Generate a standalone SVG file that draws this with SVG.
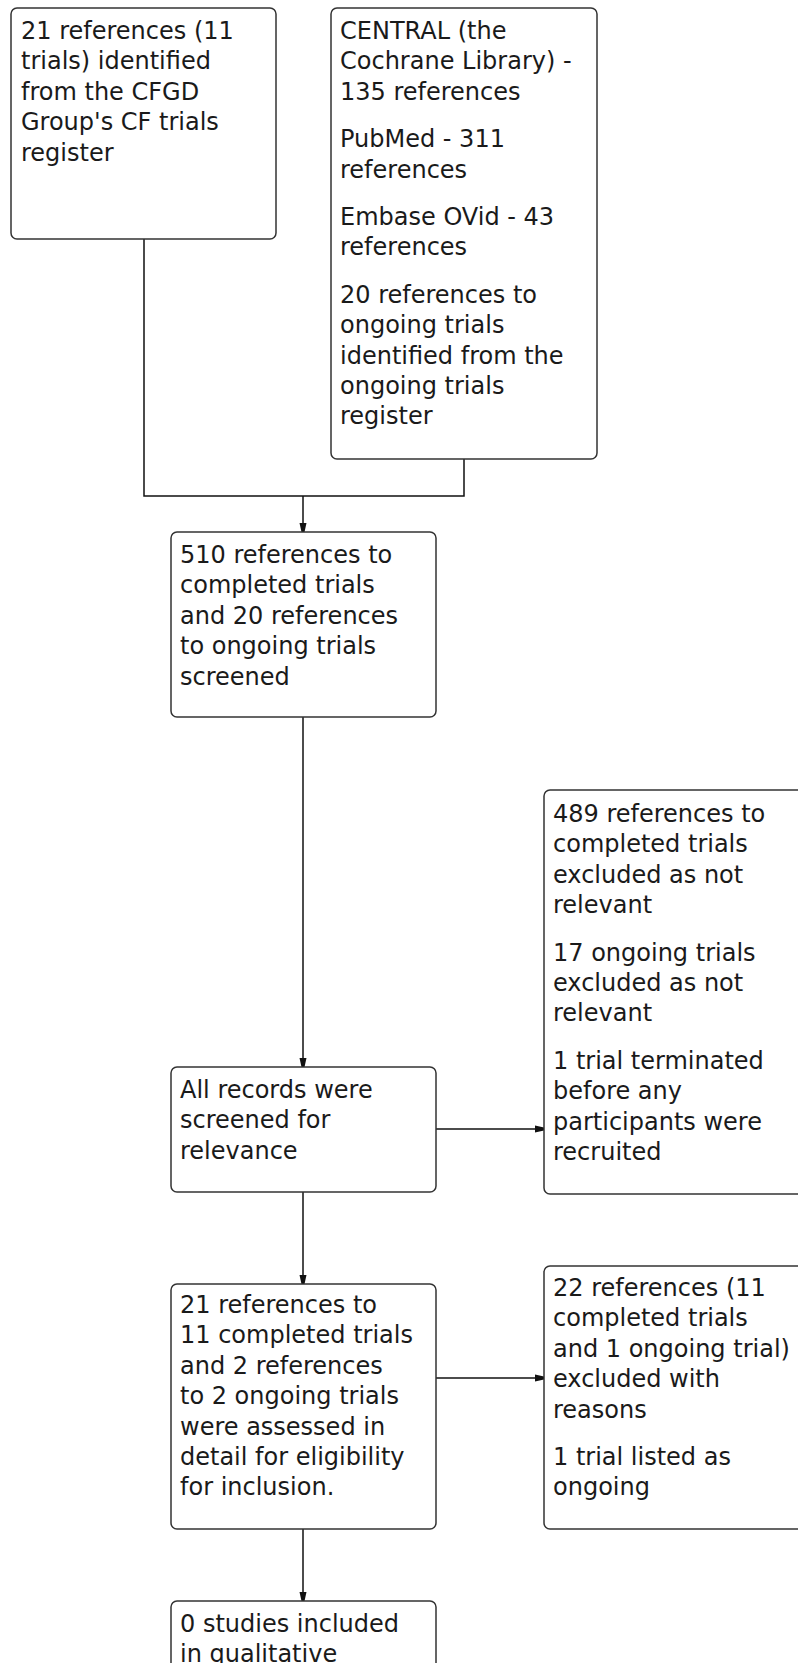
<svg xmlns="http://www.w3.org/2000/svg" width="798" height="1663" viewBox="0 0 798 1663">
<style>
.box{fill:#fff;stroke:#333;stroke-width:1.5}
.t{font-family:"DejaVu Sans",sans-serif;font-size:24px;fill:#1a1a1a}
.c{fill:none;stroke:#111;stroke-width:1.5}
</style>
<defs>
<marker id="ah" markerWidth="10" markerHeight="10" refX="9" refY="4.5" orient="auto" markerUnits="userSpaceOnUse">
<path d="M0,1 L9,3 L9,6 L0,8 Z" fill="#111"/>
</marker>
</defs>
<rect width="798" height="1663" fill="#fff"/>
<g id="connectors">
<polyline class="c" points="144,239 144,496 464,496 464,459"/>
<line class="c" x1="303" y1="496" x2="303" y2="532" marker-end="url(#ah)"/>
<line class="c" x1="303" y1="717" x2="303" y2="1067" marker-end="url(#ah)"/>
<line class="c" x1="436" y1="1129" x2="544" y2="1129" marker-end="url(#ah)"/>
<line class="c" x1="303" y1="1192" x2="303" y2="1284" marker-end="url(#ah)"/>
<line class="c" x1="436" y1="1378" x2="544" y2="1378" marker-end="url(#ah)"/>
<line class="c" x1="303" y1="1529" x2="303" y2="1601" marker-end="url(#ah)"/>
</g>
<g id="n1">
<rect class="box" x="11" y="8" width="265" height="231" rx="6"/>
<text class="t" x="21"><tspan x="21" y="39">21 references (11</tspan><tspan x="21" y="69.4">trials) identified</tspan><tspan x="21" y="99.8">from the CFGD</tspan><tspan x="21" y="130.2">Group's CF trials</tspan><tspan x="21" y="160.6">register</tspan></text>
</g>
<g id="n2">
<rect class="box" x="331" y="8" width="266" height="451" rx="6"/>
<text class="t"><tspan x="340" y="39">CENTRAL (the</tspan><tspan x="340" y="69.4">Cochrane Library) -</tspan><tspan x="340" y="99.8">135 references</tspan><tspan x="340" y="147.2">PubMed - 311</tspan><tspan x="340" y="177.6">references</tspan><tspan x="340" y="225">Embase OVid - 43</tspan><tspan x="340" y="255.4">references</tspan><tspan x="340" y="302.8">20 references to</tspan><tspan x="340" y="333.2">ongoing trials</tspan><tspan x="340" y="363.6">identified from the</tspan><tspan x="340" y="394">ongoing trials</tspan><tspan x="340" y="424.4">register</tspan></text>
</g>
<g id="n3">
<rect class="box" x="171" y="532" width="265" height="185" rx="6"/>
<text class="t"><tspan x="180" y="563">510 references to</tspan><tspan x="180" y="593.4">completed trials</tspan><tspan x="180" y="623.8">and 20 references</tspan><tspan x="180" y="654.2">to ongoing trials</tspan><tspan x="180" y="684.6">screened</tspan></text>
</g>
<g id="n4">
<rect class="box" x="171" y="1067" width="265" height="125" rx="6"/>
<text class="t"><tspan x="180" y="1098">All records were</tspan><tspan x="180" y="1128.4">screened for</tspan><tspan x="180" y="1158.8">relevance</tspan></text>
</g>
<g id="n5">
<rect class="box" x="544" y="790" width="265" height="404" rx="6"/>
<text class="t"><tspan x="553" y="822">489 references to</tspan><tspan x="553" y="852.4">completed trials</tspan><tspan x="553" y="882.8">excluded as not</tspan><tspan x="553" y="913.2">relevant</tspan><tspan x="553" y="960.6">17 ongoing trials</tspan><tspan x="553" y="991">excluded as not</tspan><tspan x="553" y="1021.4">relevant</tspan><tspan x="553" y="1068.8">1 trial terminated</tspan><tspan x="553" y="1099.2">before any</tspan><tspan x="553" y="1129.6">participants were</tspan><tspan x="553" y="1160">recruited</tspan></text>
</g>
<g id="n6">
<rect class="box" x="171" y="1284" width="265" height="245" rx="6"/>
<text class="t"><tspan x="180" y="1313">21 references to</tspan><tspan x="180" y="1343.4">11 completed trials</tspan><tspan x="180" y="1373.8">and 2 references</tspan><tspan x="180" y="1404.2">to 2 ongoing trials</tspan><tspan x="180" y="1434.6">were assessed in</tspan><tspan x="180" y="1465">detail for eligibility</tspan><tspan x="180" y="1495.4">for inclusion.</tspan></text>
</g>
<g id="n7">
<rect class="box" x="544" y="1266" width="265" height="263" rx="6"/>
<text class="t"><tspan x="553" y="1296">22 references (11</tspan><tspan x="553" y="1326.4">completed trials</tspan><tspan x="553" y="1356.8">and 1 ongoing trial)</tspan><tspan x="553" y="1387.2">excluded with</tspan><tspan x="553" y="1417.6">reasons</tspan><tspan x="553" y="1465">1 trial listed as</tspan><tspan x="553" y="1495.4">ongoing</tspan></text>
</g>
<g id="n8">
<rect class="box" x="171" y="1601" width="265" height="120" rx="6"/>
<text class="t"><tspan x="180" y="1632">0 studies included</tspan><tspan x="180" y="1662.4">in qualitative</tspan></text>
</g>
</svg>
